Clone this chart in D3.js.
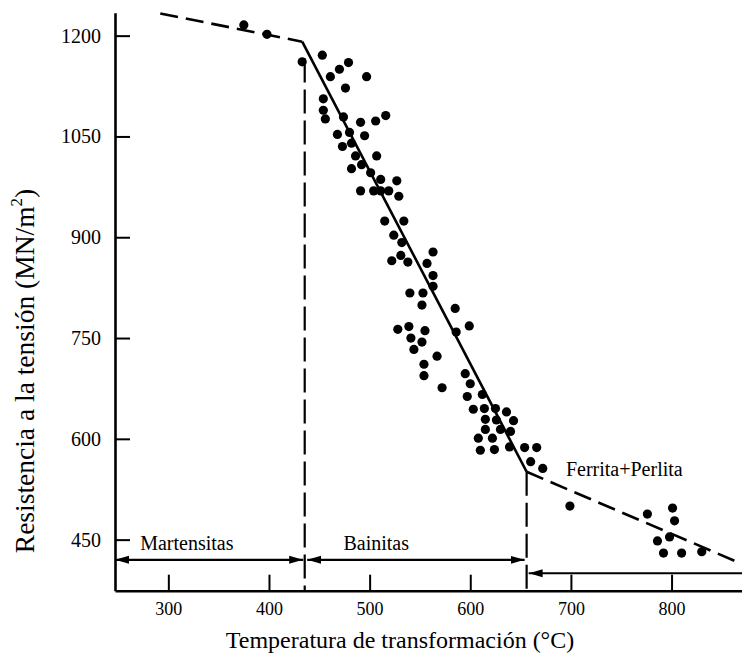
<!DOCTYPE html>
<html>
<head>
<meta charset="utf-8">
<script src="https://cdn.jsdelivr.net/npm/d3@7"></script>
<style>
  html, body { margin: 0; padding: 0; background: #fff; }
  svg { display: block; }
  text { font-family: "Liberation Serif", "Times New Roman", serif; fill: #000; }
</style>
</head>
<body>
<svg id="chart" width="742" height="661"></svg>
<script>
// ---- data ----
const tempC = [375, 398, 433, 453, 479, 470, 461, 497, 476, 454, 454, 456, 474, 491, 506, 516,
  468, 480, 495, 473, 482, 486, 507, 482, 492, 501, 511, 527, 491, 504, 511, 519, 529,
  515, 534, 524, 532, 522, 531, 538, 557, 563, 563, 563, 540, 553, 552, 585, 599, 586,
  528, 539, 555, 541, 552, 544, 567, 554, 554, 572, 595, 600, 597, 612, 603, 614, 625,
  636, 615, 626, 643, 615, 630, 640, 608, 622, 610, 624, 639, 654, 666, 660, 672,
  699, 776, 801, 803, 786, 798, 792, 810, 830];
const strength = [1216, 1202, 1161, 1171, 1160, 1150, 1139, 1139, 1122, 1106, 1089, 1076, 1079, 1071, 1073, 1081,
  1053, 1056, 1051, 1035, 1040, 1021, 1021, 1002, 1008, 996, 986, 984, 969, 969, 969, 969, 961,
  924, 924, 903, 892, 865, 873, 863, 861, 878, 843, 827, 817, 817, 799, 794, 768, 759,
  763, 767, 761, 750, 744, 733, 723, 711, 694, 676, 697, 682, 663, 666, 644, 645, 645,
  640, 629, 628, 627, 614, 614, 611, 601, 601, 583, 584, 588, 587, 587, 566, 556,
  500, 488, 497, 478, 448, 454, 430, 430, 432];

// trend line knots and segment styles
const fitTemp = [292, 433, 656, 865];
const fitStrength = [1233, 1191, 551, 417];
const fitDashed = [true, false, true];

// phase boundaries (vertical dashed lines)
const boundaryTemp = [435.5, 656];
const boundaryTop = [1166, 551];

// phase ranges (double arrows)
const phaseNames = ["Martensitas", "Bainitas", "Ferrita+Perlita"];
const phaseFrom = [247, 438, 658];
const phaseTo = [434, 654, 870];
const phaseLevel = [420, 420, 400];
const phaseLabelTemp = [272, 474, 695];
const phaseLabelStrength = [434, 434, 544];

const xTicks = [300, 400, 500, 600, 700, 800];
const yTicks = [450, 600, 750, 900, 1050, 1200];

const xTitle = "Temperatura de transformación (°C)";
const yTitleMain = "Resistencia a la tensión (MN/m";
const yTitleSup = "2";
const yTitleEnd = ")";

// ---- drawing ----
const svg = d3.select("#chart");
const x = d3.scaleLinear().domain([247, 870]).range([115, 742]);
const y = d3.scaleLinear().domain([374, 1234]).range([590.7, 12.8]);

// y axis
const yAxis = svg.append("g").attr("transform", `translate(${x(247)},0)`)
  .call(d3.axisLeft(y).tickValues(yTicks).tickFormat(d3.format("d"))
    .tickSize(-15).tickSizeOuter(0).tickPadding(14));
yAxis.select(".domain").attr("stroke", "#000").attr("stroke-width", 2.6);
yAxis.selectAll(".tick line").attr("stroke", "#000").attr("stroke-width", 2);
yAxis.selectAll(".tick text").attr("font-size", 20).attr("font-family", "Liberation Serif").attr("fill", "#000");

// x axis
const xAxis = svg.append("g").attr("transform", `translate(0,${y(374)})`)
  .call(d3.axisBottom(x).tickValues(xTicks).tickFormat(d3.format("d")).tickSize(-16).tickSizeOuter(0));
xAxis.select(".domain").attr("stroke", "#000").attr("stroke-width", 2.6);
xAxis.selectAll(".tick line").attr("stroke", "#000").attr("stroke-width", 2);
xAxis.selectAll(".tick text").attr("font-size", 18).attr("font-family", "Liberation Serif")
  .attr("fill", "#000").attr("y", 24.5).attr("dy", 0);

// arrow markers
const defs = svg.append("defs");
defs.append("marker").attr("id", "arrEnd").attr("viewBox", "0 0 14 10").attr("refX", 14).attr("refY", 5)
  .attr("markerWidth", 14).attr("markerHeight", 10).attr("markerUnits", "userSpaceOnUse").attr("orient", "auto")
  .append("path").attr("d", "M0,1 L14,5 L0,9 Z").attr("fill", "#000");
defs.append("marker").attr("id", "arrStart").attr("viewBox", "0 0 14 10").attr("refX", 0).attr("refY", 5)
  .attr("markerWidth", 14).attr("markerHeight", 10).attr("markerUnits", "userSpaceOnUse").attr("orient", "auto")
  .append("path").attr("d", "M14,1 L0,5 L14,9 Z").attr("fill", "#000");

// phase arrows
phaseNames.forEach((name, i) => {
  svg.append("line")
    .attr("x1", x(phaseFrom[i])).attr("x2", x(phaseTo[i]))
    .attr("y1", y(phaseLevel[i])).attr("y2", y(phaseLevel[i]))
    .attr("stroke", "#000").attr("stroke-width", 2.2)
    .attr("marker-start", "url(#arrStart)")
    .attr("marker-end", i < 2 ? "url(#arrEnd)" : null);
  svg.append("text")
    .attr("x", x(phaseLabelTemp[i])).attr("y", y(phaseLabelStrength[i]))
    .attr("font-size", 20).text(name);
});

// phase boundaries
boundaryTemp.forEach((t, i) => {
  svg.append("line")
    .attr("x1", x(t)).attr("x2", x(t))
    .attr("y1", y(boundaryTop[i])).attr("y2", y(374))
    .attr("stroke", "#000").attr("stroke-width", 2.2)
    .attr("stroke-dasharray", "24,7");
});

// trend line
const line = d3.line().x(d => x(d[0])).y(d => y(d[1]));
fitDashed.forEach((dashed, i) => {
  svg.append("path")
    .attr("d", line([[fitTemp[i], fitStrength[i]], [fitTemp[i + 1], fitStrength[i + 1]]]))
    .attr("fill", "none").attr("stroke", "#000").attr("stroke-width", 2.6)
    .attr("stroke-dasharray", dashed ? "18,8" : null);
});

// points
svg.append("g").selectAll("circle")
  .data(tempC.map((t, i) => [t, strength[i]]))
  .join("circle")
  .attr("cx", d => x(d[0])).attr("cy", d => y(d[1]))
  .attr("r", 4.6).attr("fill", "#000");

// axis titles
svg.append("text").attr("x", 400).attr("y", 648).attr("text-anchor", "middle")
  .attr("font-size", 24).text(xTitle);

const yt = svg.append("text").attr("transform", "translate(34,371) rotate(-90)")
  .attr("text-anchor", "middle").attr("font-size", 27.5);
yt.append("tspan").text(yTitleMain);
yt.append("tspan").attr("font-size", 17).attr("dy", -12).text(yTitleSup);
yt.append("tspan").attr("dy", 12).text(yTitleEnd);
</script>
</body>
</html>
